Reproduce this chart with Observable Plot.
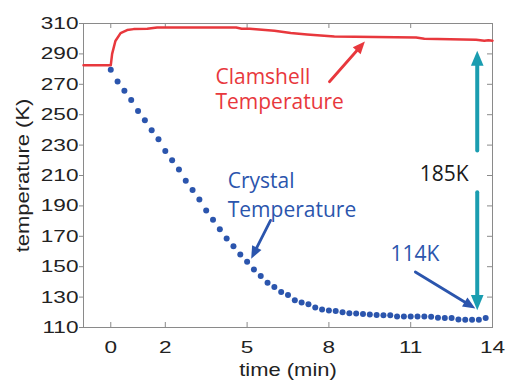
<!DOCTYPE html>
<html><head><meta charset="utf-8">
<script src="https://cdn.jsdelivr.net/npm/d3@7"></script>
<script src="https://cdn.jsdelivr.net/npm/@observablehq/plot@0.6"></script>
<style>body{margin:0;background:#fff;}</style>
</head><body><div id="chart"></div>
<script>
const xTicks = [0, 2, 5, 8, 11, 14];
const yTicks = [110, 130, 150, 170, 190, 210, 230, 250, 270, 290, 310];

const crystalTime = [0, 0.25, 0.5, 0.75, 1, 1.25, 1.5, 1.75, 2, 2.25, 2.5, 2.75, 3, 3.25, 3.5, 3.75,
  4, 4.25, 4.5, 4.75, 5, 5.25, 5.5, 5.75, 6, 6.25, 6.5, 6.75, 7, 7.25, 7.5, 7.75,
  8, 8.25, 8.5, 8.75, 9, 9.25, 9.5, 9.75, 10, 10.25, 10.5, 10.75, 11, 11.25, 11.5, 11.75,
  12, 12.25, 12.5, 12.75, 13, 13.25, 13.5, 13.75];
const crystalTemp = [279.6, 271.9, 265.8, 259.7, 252.5, 246.3, 239.7, 233.9, 226.2, 220.1, 213.9, 206.6,
  200.5, 194.2, 186.9, 180.9, 174.7, 168.6, 163.4, 158.1, 153.3, 148.1, 143.9, 139.5,
  136.7, 133.4, 131.4, 128.0, 126.4, 125.3, 123.1, 121.8, 121.2, 120.8, 120.0, 119.4,
  119.2, 118.9, 118.6, 118.2, 118.0, 118.0, 117.3, 117.2, 117.2, 117.2, 117.2, 117.1,
  116.4, 116.3, 116.3, 115.2, 115.1, 115.1, 115.1, 116.2];

const shellTime = [-1, 0, 0.05, 0.17, 0.36, 0.6, 0.84, 1.34, 1.7, 4.6, 4.8, 5.1, 6.0, 6.6, 7.2, 8.2, 11.2, 11.5, 13.4, 13.7, 13.85, 14];
const shellTemp = [282.5, 282.5, 290, 298.5, 303.7, 305.7, 306.3, 306.5, 307.4, 307.4, 306.5, 306.5, 305.2, 303.7, 302.8, 301.5, 300.8, 300, 299.3, 298.6, 299, 298.7];

// annotations
const redLabel = ["Clamshell\nTemperature"], redLabelTime = [3.84], redLabelTemp = [281.8];
const blueLabel = ["Crystal\nTemperature"], blueLabelTime = [4.29], blueLabelTemp = [215.4];
const minLabel = ["114K"], minLabelTime = [10.26], minLabelTemp = [163.4];
const diffLabel = ["185K"], diffLabelTime = [11.33], diffLabelTemp = [215.9];

const redT1 = [8.02], redK1 = [271.7], redT2 = [9.32], redK2 = [298.2];
const blueT1 = [5.86, 11.17], blueK1 = [180.5, 146.5], blueT2 = [5.15, 13.37], blueK2 = [155.3, 122.5];
const tealT = [13.44, 13.44], tealK1 = [226.4, 199], tealK2 = [292.1, 121.4];

const RED = "#e8383d", BLUE = "#2b55ad", TEAL = "#1a9db0", GRID = "#8a8a8a";
const annoFont = "Open Sans";
const idx = (a) => a.map((_, i) => i);

const dims = {
  width: 506, height: 380,
  marginLeft: 83, marginRight: 14, marginTop: 23, marginBottom: 53,
  x: {domain: [-1, 14]},
  y: {domain: [110, 310]}
};

// probe to obtain the scales (for arrowhead orientation)
const probe = Plot.plot({...dims, marks: [Plot.dot(idx(crystalTime), {x: i => crystalTime[i], y: i => crystalTemp[i]})]});
const sx = probe.scale("x"), sy = probe.scale("y");

// filled arrowhead symbol, tip at origin pointing up
const headSymbol = {
  draw(ctx, size) {
    const s = Math.sqrt(size);
    ctx.moveTo(0, 0);
    ctx.lineTo(-0.42 * s, s);
    ctx.lineTo(0.42 * s, s);
    ctx.closePath();
  }
};

function arrowMarks(x1, y1, x2, y2, color, width, r) {
  const ang = x1.map((_, i) => {
    const dx = sx.apply(x2[i]) - sx.apply(x1[i]);
    const dy = sy.apply(y2[i]) - sy.apply(y1[i]);
    return Math.atan2(dx, -dy) * 180 / Math.PI;
  });
  const len = r * Math.sqrt(Math.PI);
  return [
    Plot.arrow(idx(x1), {x1: i => x1[i], y1: i => y1[i], x2: i => x2[i], y2: i => y2[i], stroke: color, strokeWidth: width, headLength: 0, insetEnd: len * 0.7}),
    Plot.dot(idx(x1), {x: i => x2[i], y: i => y2[i], symbol: headSymbol, r, rotate: i => ang[i], fill: color, stroke: "none"})
  ];
}

const chart = Plot.plot({
  ...dims,
  style: {fontFamily: "Liberation Sans, Arial, sans-serif", fontSize: "17px", background: "#fff", color: "#222"},
  marks: [
    Plot.frame({stroke: GRID}),
    Plot.tickX(xTicks, {x: d => d, stroke: GRID, insetTop: 299}),
    Plot.tickX(xTicks, {x: d => d, stroke: GRID, insetBottom: 299}),
    Plot.tickY(yTicks, {y: d => d, stroke: GRID, insetLeft: 404}),
    Plot.axisY(yTicks, {tickSize: 4, tickPadding: 1, stroke: GRID, label: null, fontSize: 17}),
    Plot.axisX(xTicks, {tickSize: 0, tickPadding: 13, label: null, fontSize: 17}),
    Plot.text(["time (min)"], {frameAnchor: "bottom", textAnchor: "middle", lineAnchor: "middle", dy: 43, fontSize: 18, fill: "#222"}),
    Plot.text(["temperature (K)"], {frameAnchor: "left", textAnchor: "middle", lineAnchor: "middle", rotate: -90, dx: -60, fontSize: 18, fill: "#222"}),
    Plot.line(idx(shellTime), {x: i => shellTime[i], y: i => shellTemp[i], stroke: RED, strokeWidth: 2.5}),
    Plot.dot(idx(crystalTime), {x: i => crystalTime[i], y: i => crystalTemp[i], r: 3, fill: BLUE, stroke: "none"}),
    Plot.text(redLabel, {x: redLabelTime, y: redLabelTemp, text: d => d, textAnchor: "start", lineAnchor: "top", lineHeight: 1.2, fontSize: 21, fontFamily: annoFont, fill: RED}),
    Plot.text(blueLabel, {x: blueLabelTime, y: blueLabelTemp, text: d => d, textAnchor: "start", lineAnchor: "top", lineHeight: 1.38, fontSize: 21, fontFamily: annoFont, fill: BLUE}),
    Plot.text(minLabel, {x: minLabelTime, y: minLabelTemp, text: d => d, textAnchor: "start", lineAnchor: "top", fontSize: 21, fontFamily: annoFont, fill: BLUE}),
    Plot.text(diffLabel, {x: diffLabelTime, y: diffLabelTemp, text: d => d, textAnchor: "start", lineAnchor: "top", fontSize: 21, fontFamily: annoFont, fill: "#1a1a1a"}),
    ...arrowMarks(redT1, redK1, redT2, redK2, RED, 2.8, 7),
    ...arrowMarks(blueT1, blueK1, blueT2, blueK2, BLUE, 2.8, 7),
    ...arrowMarks(tealT, tealK1, tealT, tealK2, TEAL, 4, 8.5)
  ]
});

function stretch(nodes, s) {
  for (const el of nodes) {
    const t = el.getAttribute("transform") || "";
    const x = el.getAttribute("x");
    let pre = "";
    if (x != null && x !== "" && !isNaN(+x)) { pre = `translate(${+x},0) `; el.removeAttribute("x"); }
    el.setAttribute("transform", `${t} ${pre}scale(${s},1)`.trim());
  }
}
const svg = d3.select(chart);
stretch(svg.selectAll('g[aria-label="x-axis tick label"] text, g[aria-label="y-axis tick label"] text').nodes(), 1.33);
stretch(svg.selectAll("text").filter(function() { return this.textContent === "time (min)" || this.textContent === "temperature (K)"; }).nodes(), 1.22);

document.getElementById("chart").append(chart);
</script>
</body></html>
